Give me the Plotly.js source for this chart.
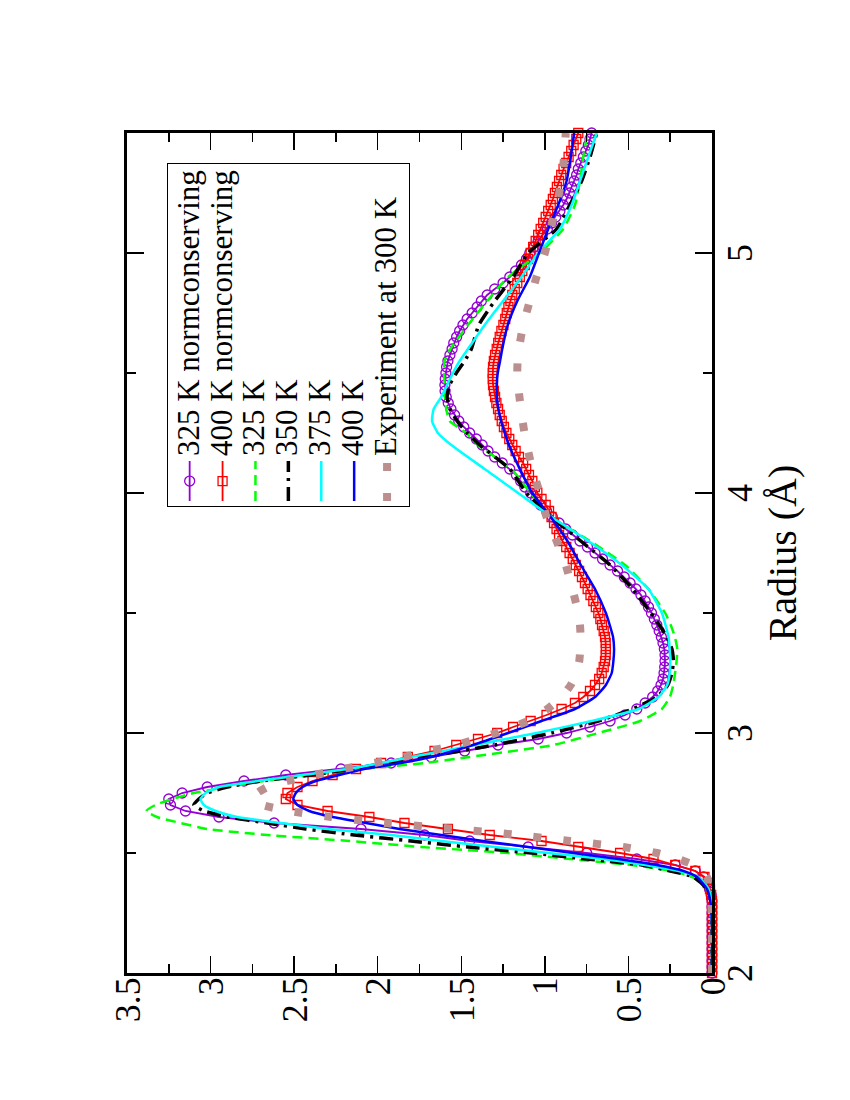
<!DOCTYPE html>
<html><head><meta charset="utf-8">
<script src="https://cdn.plot.ly/plotly-3.0.1.min.js"></script>
<style>
html,body{margin:0;padding:0;background:#fff;overflow:hidden;width:850px;height:1100px}
#plot{position:absolute;left:0;top:0;width:1100px;height:850px;transform-origin:0 0;transform:translate(0px,1100px) rotate(-90deg)}
</style></head><body><div id="plot"></div><script>
// radius grid of the two norm-conserving series (Å)
const rFine = [2.000,2.025,2.050,2.075,2.100,2.125,2.150,2.175,2.200,2.225,2.250,2.275,2.300,2.325,2.350,2.375,2.400,2.425,2.450,2.475,
2.500,2.525,2.550,2.575,2.600,2.625,2.650,2.675,2.700,2.725,2.750,2.775,2.800,2.825,2.850,2.875,2.900,2.925,2.950,2.975,
3.000,3.025,3.050,3.075,3.100,3.125,3.150,3.175,3.200,3.225,3.250,3.275,3.300,3.325,3.350,3.375,3.400,3.425,3.450,3.475,
3.500,3.525,3.550,3.575,3.600,3.625,3.650,3.675,3.700,3.725,3.750,3.775,3.800,3.825,3.850,3.875,3.900,3.925,3.950,3.975,
4.000,4.025,4.050,4.075,4.100,4.125,4.150,4.175,4.200,4.225,4.250,4.275,4.300,4.325,4.350,4.375,4.400,4.425,4.450,4.475,
4.500,4.525,4.550,4.575,4.600,4.625,4.650,4.675,4.700,4.725,4.750,4.775,4.800,4.825,4.850,4.875,4.900,4.925,4.950,4.975,
5.000,5.025,5.050,5.075,5.100,5.125,5.150,5.175,5.200,5.225,5.250,5.275,5.300,5.325,5.350,5.375,5.400,5.425,5.450,5.475,5.500];

const g325nc = [0,0,0,0,0,0,0,0,0,0,0,0,0,0.005,0.015,0.03,0.05,0.10,0.22,0.45,
0.75,1.10,1.45,1.72,2.10,2.62,2.95,3.15,3.24,3.25,3.17,3.02,2.80,2.55,2.22,1.92,1.68,1.48,1.28,1.04,
0.87,0.73,0.61,0.52,0.45,0.40,0.355,0.325,0.305,0.293,0.287,0.283,0.281,0.281,0.285,0.293,0.303,0.316,0.33,0.345,
0.362,0.38,0.40,0.425,0.455,0.49,0.525,0.565,0.61,0.655,0.70,0.745,0.79,0.835,0.875,0.915,0.955,0.99,1.025,1.055,
1.085,1.12,1.145,1.17,1.21,1.255,1.30,1.34,1.375,1.41,1.45,1.485,1.515,1.54,1.562,1.578,1.59,1.597,1.598,1.596,
1.592,1.588,1.58,1.568,1.555,1.545,1.528,1.51,1.49,1.465,1.435,1.405,1.38,1.345,1.30,1.25,1.21,1.175,1.14,1.11,
1.09,1.065,1.04,1.015,0.985,0.96,0.935,0.91,0.89,0.87,0.853,0.84,0.825,0.81,0.80,0.785,0.77,0.755,0.74,0.73,0.72];

const g400nc = [0,0,0,0,0,0,0,0,0,0,0,0,0,0.005,0.012,0.025,0.045,0.10,0.22,0.35,
0.55,0.80,1.02,1.33,1.58,1.84,2.05,2.30,2.48,2.55,2.54,2.48,2.39,2.27,2.13,1.98,1.82,1.66,1.53,1.40,
1.285,1.19,1.085,0.99,0.90,0.82,0.77,0.73,0.70,0.675,0.66,0.648,0.64,0.636,0.635,0.636,0.64,0.648,0.658,0.668,
0.68,0.695,0.71,0.727,0.744,0.76,0.778,0.795,0.815,0.833,0.852,0.872,0.895,0.915,0.93,0.945,0.96,0.975,0.995,1.02,
1.045,1.06,1.075,1.095,1.112,1.13,1.155,1.175,1.195,1.213,1.23,1.245,1.258,1.27,1.28,1.29,1.298,1.305,1.31,1.312,
1.312,1.31,1.305,1.298,1.288,1.279,1.27,1.26,1.248,1.237,1.228,1.218,1.206,1.195,1.18,1.165,1.15,1.135,1.12,1.10,
1.085,1.07,1.055,1.04,1.025,1.01,0.995,0.98,0.965,0.952,0.94,0.928,0.915,0.902,0.888,0.872,0.858,0.842,0.828,0.812,0.80];

// radius grid of the other series (Å)
const rLine = [2.0,2.2,2.3,2.35,2.4,2.425,2.45,2.475,2.5,2.525,2.55,2.575,2.6,2.625,2.65,2.675,2.7,2.725,2.75,2.775,
2.8,2.825,2.85,2.875,2.9,2.95,3.0,3.05,3.1,3.15,3.2,3.25,3.3,3.35,3.4,3.45,3.5,3.6,3.7,3.8,
3.9,4.0,4.1,4.2,4.25,4.3,4.35,4.4,4.45,4.5,4.55,4.6,4.7,4.8,4.9,5.0,5.1,5.2,5.3,5.4,5.5];

const g325 = [0,0,0.005,0.03,0.12,0.24,0.48,0.85,1.22,1.74,2.17,2.66,3.02,3.18,3.32,3.385,3.33,3.23,3.10,2.90,
2.68,2.40,2.10,1.72,1.45,0.95,0.68,0.43,0.30,0.252,0.232,0.221,0.212,0.208,0.222,0.247,0.28,0.38,0.52,0.73,
0.96,1.085,1.20,1.40,1.47,1.57,1.59,1.598,1.60,1.602,1.60,1.565,1.46,1.345,1.22,1.03,0.89,0.82,0.79,0.77,0.745];

const g350 = [0,0,0.005,0.03,0.11,0.25,0.42,0.75,1.08,1.46,1.80,2.14,2.43,2.66,2.90,3.04,3.10,3.07,3.02,2.90,
2.70,2.40,2.15,1.95,1.72,1.30,0.96,0.68,0.475,0.33,0.265,0.24,0.231,0.24,0.27,0.315,0.365,0.475,0.61,0.785,
0.96,1.11,1.21,1.39,1.465,1.525,1.568,1.585,1.57,1.53,1.48,1.44,1.395,1.30,1.19,1.10,0.93,0.85,0.78,0.73,0.69];

const g375 = [0,0,0.005,0.02,0.08,0.20,0.40,0.65,0.98,1.30,1.62,1.92,2.30,2.58,2.84,2.97,3.04,3.06,3.03,2.95,
2.72,2.45,2.18,1.98,1.80,1.42,1.05,0.72,0.44,0.32,0.268,0.253,0.25,0.253,0.26,0.278,0.30,0.38,0.54,0.74,
0.96,1.16,1.36,1.56,1.64,1.675,1.665,1.62,1.585,1.55,1.51,1.46,1.36,1.25,1.14,1.04,0.91,0.84,0.79,0.74,0.69];

const g400 = [0,0,0.01,0.03,0.09,0.17,0.33,0.56,0.83,1.10,1.37,1.62,1.87,2.07,2.27,2.41,2.48,2.505,2.49,2.45,
2.37,2.23,2.08,1.86,1.68,1.43,1.22,1.02,0.82,0.70,0.635,0.60,0.59,0.586,0.592,0.612,0.635,0.70,0.785,0.865,
0.965,1.075,1.15,1.215,1.24,1.262,1.278,1.287,1.288,1.282,1.268,1.255,1.222,1.165,1.09,1.035,0.98,0.92,0.87,0.845,0.825];

const gExp = [0,0,0.005,0.01,0.03,0.06,0.11,0.20,0.33,0.53,0.85,1.16,1.54,1.96,2.28,2.53,2.69,2.74,2.72,2.66,
2.54,2.38,2.21,2.02,1.85,1.53,1.29,1.10,0.985,0.90,0.845,0.81,0.794,0.788,0.786,0.79,0.80,0.835,0.875,0.93,
0.99,1.03,1.075,1.108,1.122,1.133,1.143,1.152,1.16,1.165,1.163,1.155,1.13,1.09,1.05,1.0,0.965,0.93,0.90,0.885,0.875];

const seriesNames = ['325 K normconserving','400 K normconserving','325 K','350 K','375 K','400 K','Experiment at 300 K'];
const radiusTitle = 'Radius (Å)';

const FONT = "'Liberation Serif', 'Times New Roman', Times, serif";
const nm = s => '<span style="font-size:31px">' + s + '</span>';

const traces = [
  {x: rFine, y: g325nc, name: nm(seriesNames[0]), mode: 'lines+markers', cliponaxis: false,
   line: {color: '#9400D3', width: 1.8},
   marker: {symbol: 'circle-open', size: 10, color: '#9400D3', line: {width: 1.3, color: '#9400D3'}}},
  {x: rFine, y: g400nc, name: nm(seriesNames[1]), mode: 'lines+markers', cliponaxis: false,
   line: {color: '#FF0000', width: 1.8},
   marker: {symbol: 'square-open', size: 9, color: '#FF0000', line: {width: 1.3, color: '#FF0000'}}},
  {x: rLine, y: g325, name: nm(seriesNames[2]), mode: 'lines',
   line: {color: '#00FF00', width: 2.5, dash: '10px,6px', shape: 'spline', smoothing: 0.5}},
  {x: rLine, y: g350, name: nm(seriesNames[3]), mode: 'lines',
   line: {color: '#000000', width: 3.5, dash: '14px,6px,3px,6px', shape: 'spline', smoothing: 0.5}},
  {x: rLine, y: g375, name: nm(seriesNames[4]), mode: 'lines',
   line: {color: '#00FFFF', width: 2.5, shape: 'spline', smoothing: 0.5}},
  {x: rLine, y: g400, name: nm(seriesNames[5]), mode: 'lines',
   line: {color: '#0000FF', width: 2.5, shape: 'spline', smoothing: 0.5}},
  {x: rLine, y: gExp, name: nm(seriesNames[6]), mode: 'lines',
   line: {color: '#BC8F8F', width: 8, dash: '8px,22px', shape: 'spline', smoothing: 0.5}}
];

const axisCommon = {
  showline: true, linewidth: 3, linecolor: '#000', mirror: 'allticks',
  ticks: 'inside', ticklen: 17, tickwidth: 1.5, tickcolor: '#000',
  showgrid: false, zeroline: false, automargin: false,
  tickfont: {family: FONT, size: 36, color: '#000'}
};

const layout = {
  width: 1100, height: 850,
  margin: {l: 127, r: 133, t: 127, b: 138},
  paper_bgcolor: '#fff', plot_bgcolor: '#fff',
  showlegend: true,
  font: {family: FONT, color: '#000'},
  xaxis: Object.assign({}, axisCommon, {
    range: [2, 5.5], tick0: 2, dtick: 1, ticklabelstandoff: -6,
    minor: {dtick: 0.5, ticks: 'inside', ticklen: 9, tickwidth: 1.5, tickcolor: '#000'},
    title: {text: radiusTitle, font: {family: FONT, size: 40, color: '#000'}, standoff: 8}
  }),
  yaxis: Object.assign({}, axisCommon, {
    range: [0, 3.5], tick0: 0, dtick: 0.5, ticklabelstandoff: -6,
    minor: {dtick: 0.25, ticks: 'inside', ticklen: 9, tickwidth: 1.5, tickcolor: '#000'}
  }),
  legend: {
    x: 0.964, xanchor: 'right', y: 0.9316, yanchor: 'top',
    bgcolor: '#fff', bordercolor: '#000', borderwidth: 1.2,
    font: {family: FONT, size: 23, color: '#000'},
    itemwidth: 40, tracegroupgap: 0
  }
};

Plotly.newPlot('plot', traces, layout, {displayModeBar: false, staticPlot: true});
</script></body></html>
